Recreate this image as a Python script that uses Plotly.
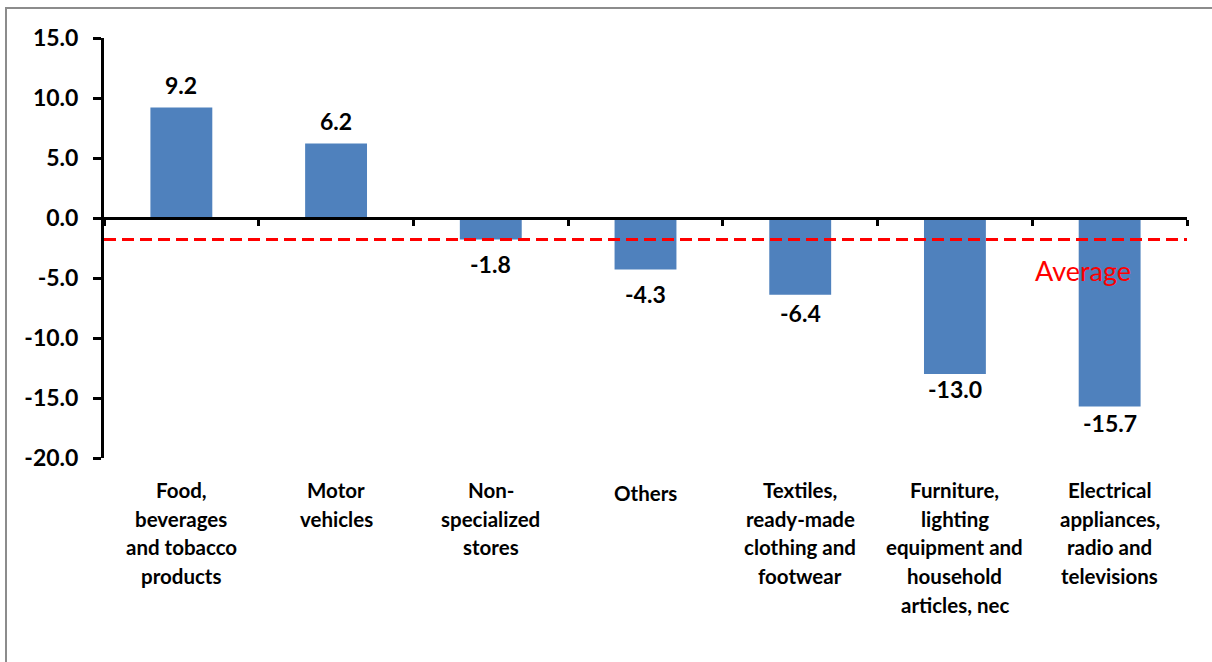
import plotly.graph_objects as go

# Year-on-year change by retail category (%)
categories = [
    "Food,<br>beverages<br>and tobacco<br>products",
    "Motor<br>vehicles",
    "Non-<br>specialized<br>stores",
    "Others",
    "Textiles,<br>ready-made<br>clothing and<br>footwear",
    "Furniture,<br>lighting<br>equipment and<br>household<br>articles, nec",
    "Electrical<br>appliances,<br>radio and<br>televisions",
]
values = [9.2, 6.2, -1.8, -4.3, -6.4, -13.0, -15.7]
average_value = -1.8
y_ticks = [15, 10, 5, 0, -5, -10, -15, -20]
y_tick_text = ["15.0", "10.0", "5.0", "0.0", "-5.0", "-10.0", "-15.0", "-20.0"]

FONT = "Lato, Open Sans, sans-serif"
BAR_COLOR = "#4F81BD"
# gap (px) between a bar's end and the centre of its value label
LABEL_GAP = [23, 23, 24, 24, 18, 15, 17]

x_pos = list(range(len(values)))

fig = go.Figure()
fig.add_trace(go.Bar(
    x=x_pos, y=values, width=0.4,
    marker=dict(color=BAR_COLOR, line=dict(width=0)),
    xaxis="x", yaxis="y", showlegend=False, hoverinfo="skip",
))

# Invisible trace that carries the zero-crossing category axis
fig.add_trace(go.Scatter(
    x=x_pos, y=[0] * len(x_pos), mode="markers",
    marker=dict(opacity=0), xaxis="x2", yaxis="y",
    showlegend=False, hoverinfo="skip",
))

annotations = []
# Value labels above positive bars, below negative bars
for i, v in enumerate(values):
    gap = LABEL_GAP[i]
    annotations.append(dict(
        x=i, y=v, xref="x", yref="y", text=f"{v:.1f}", showarrow=False,
        yshift=gap if v >= 0 else -gap, yanchor="middle",
        font=dict(family=FONT, size=23, color="black", weight="bold"),
    ))

# Category labels, one line at a time for even line spacing
for i, label in enumerate(categories):
    lines = label.split("<br>")
    top = 32 if len(lines) > 1 else 35
    for j, line in enumerate(lines):
        annotations.append(dict(
            x=i, y=0, xref="x", yref="paper", text=line, showarrow=False,
            yanchor="middle", yshift=-(top + j * 28.7),
            font=dict(family=FONT, size=20.5, color="black", weight="bold"),
        ))

annotations.append(dict(
    x=5.83, y=-4.35, xref="x", yref="y", text="Average", showarrow=False,
    font=dict(family=FONT, size=27, color="#FF0000"),
))

zero_frac = (0 - (-20)) / (15 - (-20))

fig.update_layout(
    width=1212, height=662,
    margin=dict(l=104, r=25, t=38, b=204),
    paper_bgcolor="white", plot_bgcolor="white",
    font=dict(family=FONT, color="black"),
    xaxis=dict(
        range=[-0.5, 6.5], showticklabels=False, showline=False,
        showgrid=False, zeroline=False, ticks="",
    ),
    xaxis2=dict(
        range=[-0.5, 6.5], overlaying="x", anchor="free", position=zero_frac,
        side="bottom", showline=True, linecolor="black", linewidth=3,
        tickmode="array", tickvals=[k + 0.5 for k in range(-1, 7)],
        ticks="outside", ticklen=6, tickwidth=3, tickcolor="black",
        showticklabels=False, showgrid=False, zeroline=False,
    ),
    yaxis=dict(
        range=[-20, 15], tickmode="array", tickvals=y_ticks, ticktext=y_tick_text,
        showline=True, linecolor="black", linewidth=3,
        ticks="outside", ticklen=8, tickwidth=3, tickcolor="black",
        ticklabelstandoff=10,
        tickfont=dict(family=FONT, size=23, color="black", weight="bold"),
        showgrid=False, zeroline=False,
    ),
    shapes=[
        dict(type="line", xref="paper", yref="y", x0=0, x1=1,
             y0=average_value, y1=average_value,
             line=dict(color="#FF0000", width=3, dash="12px,6px")),
        dict(type="rect", xref="paper", yref="paper",
             x0=(6 - 104) / 1083, x1=1.2, y0=-1.0, y1=(458 - 8) / 420,
             line=dict(color="#8C8C8C", width=2), fillcolor="rgba(0,0,0,0)",
             layer="below"),
    ],
    annotations=annotations,
)

fig.write_html("out.html")
